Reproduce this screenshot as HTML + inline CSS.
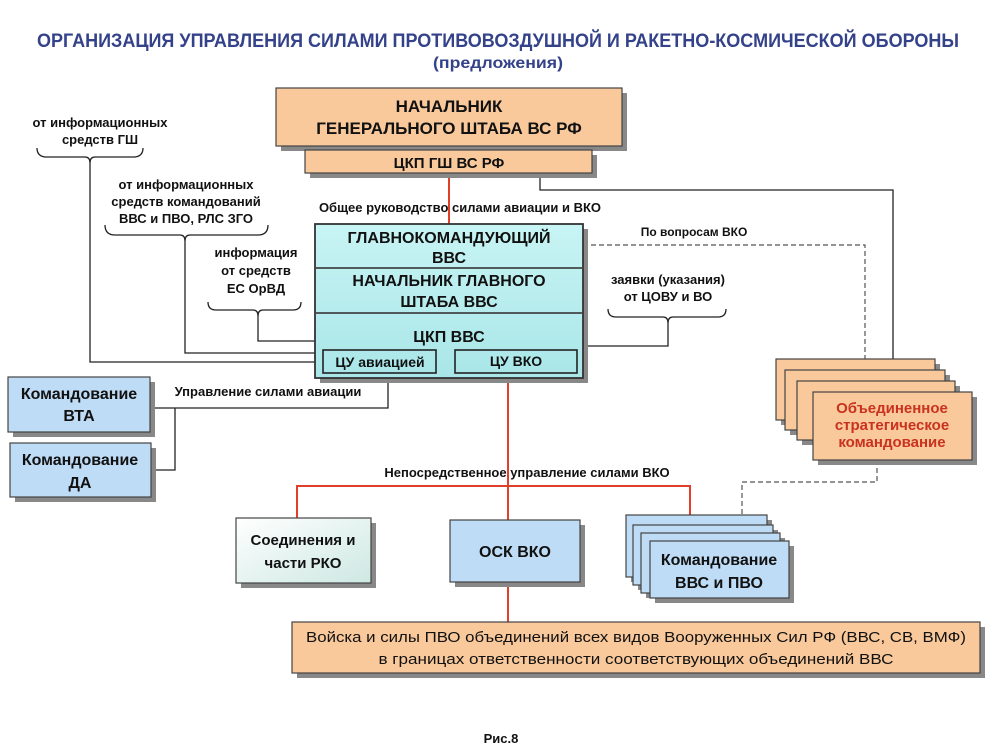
<!DOCTYPE html>
<html><head><meta charset="utf-8"><style>
html,body{margin:0;padding:0;background:#fff;}
svg{display:block;}
text{font-family:"Liberation Sans Narrow","Liberation Sans",sans-serif;font-weight:bold;fill:#111;}
</style></head><body>
<svg width="1000" height="750" viewBox="0 0 1000 750" xmlns="http://www.w3.org/2000/svg">
<defs>
<linearGradient id="cy" x1="0" y1="0" x2="0" y2="1"><stop offset="0" stop-color="#c8f4f4"/><stop offset="1" stop-color="#a9e6e8"/></linearGradient>
<linearGradient id="gr" x1="0" y1="0" x2="1" y2="1"><stop offset="0" stop-color="#ffffff"/><stop offset="1" stop-color="#cde8e2"/></linearGradient>
</defs>
<g text-anchor="middle">
<text x="498" y="47" font-size="19" fill="#34428a" style="fill:#34428a" textLength="922" lengthAdjust="spacingAndGlyphs">ОРГАНИЗАЦИЯ УПРАВЛЕНИЯ СИЛАМИ ПРОТИВОВОЗДУШНОЙ И РАКЕТНО-КОСМИЧЕСКОЙ ОБОРОНЫ</text>
<text x="498" y="68" font-size="16" style="fill:#34428a" textLength="130" lengthAdjust="spacingAndGlyphs">(предложения)</text>
</g>

<!-- connector lines -->
<g fill="none" stroke="#222" stroke-width="1.3">
<polyline points="540,173 540,190 893,190 893,392"/>
<path d="M37,148 q0,8 8,9 h40 q5,0 5,6 q0,-6 5,-6 h40 q8,-1 8,-9"/>
<polyline points="90,163 90,362 315,362"/>
<path d="M105,225 q0,10 10,10 h65 q5,0 5,6 q0,-6 5,-6 h68 q10,0 10,-10"/>
<polyline points="185,241 185,353 315,353"/>
<path d="M208,302 q0,8 8,8 h37 q5,0 5,6 q0,-6 5,-6 h30 q8,0 8,-8"/>
<polyline points="258,316 258,341 315,341"/>
<path d="M608,309 q0,8 8,8 h47 q5,0 5,6 q0,-6 5,-6 h45 q8,0 8,-8"/>
<polyline points="668,323 668,346 583,346"/>
<polyline points="388,378 388,408 152,408"/>
<polyline points="175,408 175,470 153,470"/>
</g>
<g fill="none" stroke="#555" stroke-width="1.2" stroke-dasharray="5,3">
<polyline points="583,245 865,245 865,392"/>
<polyline points="877,460 877,482 742,482 742,516"/>
</g>
<g fill="none" stroke="#e0402a" stroke-width="2">
<line x1="449" y1="173" x2="449" y2="224"/>
<line x1="508" y1="378" x2="508" y2="520"/>
<polyline points="297,518 297,486 690,486 690,516"/>
<line x1="508" y1="582" x2="508" y2="622"/>
</g>

<!-- boxes -->
<g stroke="#444" stroke-width="1.2">
<rect x="281" y="93" width="346" height="58" fill="#888" stroke="none"/>
<rect x="276" y="88" width="346" height="58" fill="#f9c99b"/>
<rect x="310" y="155" width="287" height="23" fill="#888" stroke="none"/>
<rect x="305" y="150" width="287" height="23" fill="#f9c99b"/>
<rect x="320" y="229" width="268" height="154" fill="#888" stroke="none"/>
<rect x="315" y="224" width="268" height="154" fill="url(#cy)" stroke="#333" stroke-width="1.8"/>
<line x1="315" y1="268" x2="583" y2="268" stroke-width="1.8"/>
<line x1="315" y1="313" x2="583" y2="313" stroke-width="1.8"/>
<rect x="323" y="350" width="113" height="23" fill="none" stroke="#222" stroke-width="1.6"/>
<rect x="455" y="350" width="122" height="23" fill="none" stroke="#222" stroke-width="1.6"/>

<rect x="13" y="382" width="142" height="55" fill="#888" stroke="none"/>
<rect x="8" y="377" width="142" height="55" fill="#bfdcf6"/>
<rect x="15" y="448" width="141" height="54" fill="#888" stroke="none"/>
<rect x="10" y="443" width="141" height="54" fill="#bfdcf6"/>

<rect x="781" y="364" width="159" height="61" fill="#888" stroke="none"/>
<rect x="776" y="359" width="159" height="61" fill="#f9c99b"/>
<rect x="790" y="375" width="160" height="60" fill="#888" stroke="none"/>
<rect x="785" y="370" width="160" height="60" fill="#f9c99b"/>
<rect x="802" y="386" width="158" height="59" fill="#888" stroke="none"/>
<rect x="797" y="381" width="158" height="59" fill="#f9c99b"/>
<rect x="818" y="397" width="159" height="68" fill="#888" stroke="none"/>
<rect x="813" y="392" width="159" height="68" fill="#f9c99b"/>

<rect x="241" y="523" width="135" height="65" fill="#888" stroke="none"/>
<rect x="236" y="518" width="135" height="65" fill="url(#gr)"/>
<rect x="455" y="525" width="130" height="62" fill="#888" stroke="none"/>
<rect x="450" y="520" width="130" height="62" fill="#bfdcf6"/>

<rect x="631" y="520" width="141" height="62" fill="#888" stroke="none"/>
<rect x="626" y="515" width="141" height="62" fill="#bfdcf6"/>
<rect x="638" y="530" width="140" height="60" fill="#888" stroke="none"/>
<rect x="633" y="525" width="140" height="60" fill="#bfdcf6"/>
<rect x="646" y="538" width="139" height="60" fill="#888" stroke="none"/>
<rect x="641" y="533" width="139" height="60" fill="#bfdcf6"/>
<rect x="655" y="546" width="139" height="57" fill="#888" stroke="none"/>
<rect x="650" y="541" width="139" height="57" fill="#bfdcf6"/>

<rect x="297" y="627" width="688" height="51" fill="#888" stroke="none"/>
<rect x="292" y="622" width="688" height="51" fill="#f9c99b"/>
</g>

<!-- texts -->
<g text-anchor="middle">
<text x="449" y="112" font-size="17">НАЧАЛЬНИК</text>
<text x="449" y="134" font-size="17">ГЕНЕРАЛЬНОГО ШТАБА ВС РФ</text>
<text x="449" y="168" font-size="15">ЦКП ГШ ВС РФ</text>
<text x="449" y="243" font-size="16">ГЛАВНОКОМАНДУЮЩИЙ</text>
<text x="449" y="263" font-size="16">ВВС</text>
<text x="449" y="286" font-size="16">НАЧАЛЬНИК ГЛАВНОГО</text>
<text x="449" y="307" font-size="16">ШТАБА ВВС</text>
<text x="449" y="342" font-size="16">ЦКП ВВС</text>
<text x="380" y="367" font-size="14">ЦУ авиацией</text>
<text x="516" y="366" font-size="14">ЦУ ВКО</text>
<text x="100" y="127" font-size="13">от информационных</text>
<text x="100" y="144" font-size="13">средств ГШ</text>
<text x="186" y="189" font-size="13">от информационных</text>
<text x="186" y="206" font-size="13">средств командований</text>
<text x="186" y="223" font-size="13">ВВС и ПВО, РЛС ЗГО</text>
<text x="256" y="257" font-size="13">информация</text>
<text x="256" y="275" font-size="13">от средств</text>
<text x="256" y="293" font-size="13">ЕС ОрВД</text>
<text x="460" y="212" font-size="13">Общее руководство  силами авиации и ВКО</text>
<text x="694" y="236" font-size="12">По вопросам ВКО</text>
<text x="668" y="284" font-size="13">заявки (указания)</text>
<text x="668" y="301" font-size="13">от ЦОВУ и ВО</text>
<text x="79" y="399" font-size="16">Командование</text>
<text x="79" y="421" font-size="16">ВТА</text>
<text x="80" y="465" font-size="16">Командование</text>
<text x="80" y="488" font-size="16">ДА</text>
<text x="268" y="396" font-size="13">Управление  силами авиации</text>
<text x="527" y="477" font-size="13">Непосредственное  управление силами  ВКО</text>
<text x="892" y="413" font-size="15" style="fill:#c8321e">Объединенное</text>
<text x="892" y="430" font-size="15" style="fill:#c8321e">стратегическое</text>
<text x="892" y="447" font-size="15" style="fill:#c8321e">командование</text>
<text x="303" y="545" font-size="15">Соединения и</text>
<text x="303" y="568" font-size="15">части РКО</text>
<text x="515" y="557" font-size="16">ОСК ВКО</text>
<text x="719" y="565" font-size="16">Командование</text>
<text x="719" y="588" font-size="16">ВВС и ПВО</text>
<text x="636" y="642" font-size="15" style="font-weight:normal" textLength="660" lengthAdjust="spacingAndGlyphs">Войска и силы ПВО объединений всех видов Вооруженных Сил РФ (ВВС, СВ, ВМФ)</text>
<text x="636" y="664" font-size="15" style="font-weight:normal" textLength="515" lengthAdjust="spacingAndGlyphs">в границах ответственности соответствующих объединений ВВС</text>
<text x="501" y="743" font-size="13">Рис.8</text>
</g>
</svg>
</body></html>
